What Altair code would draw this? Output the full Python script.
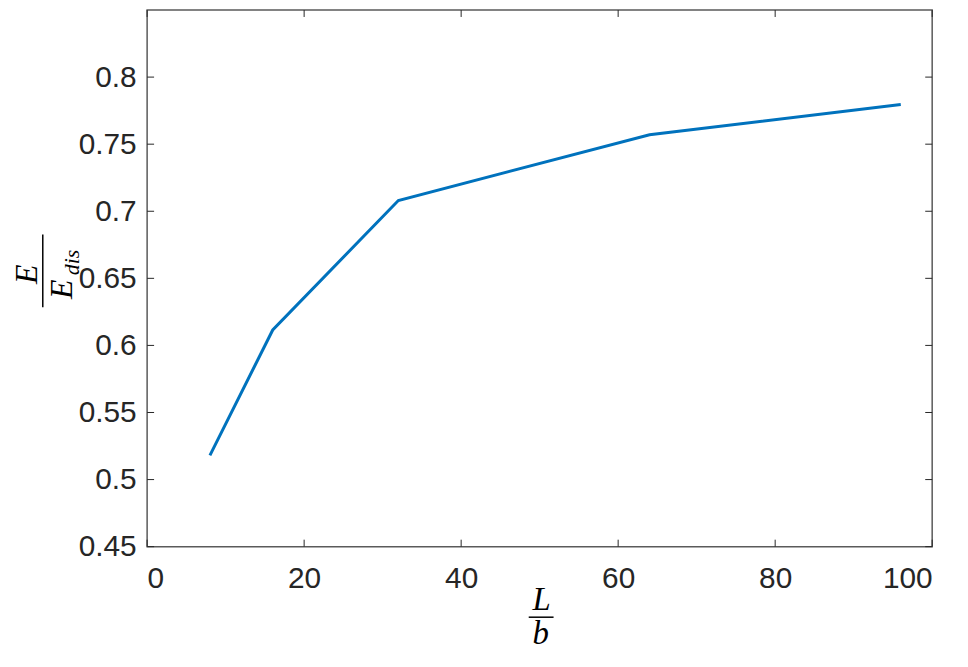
import altair as alt
import pandas as pd

# data
x_vals = [8, 16, 32, 64, 96]
y_vals = [0.518, 0.6115, 0.708, 0.757, 0.7795]
x_ticks = [0, 20, 40, 60, 80, 100]
y_ticks = [0.45, 0.5, 0.55, 0.6, 0.65, 0.7, 0.75, 0.8]

W, H = 790, 540
df = pd.DataFrame({"x": x_vals, "y": y_vals})
xt = pd.DataFrame({"x": x_ticks})
yt = pd.DataFrame({"y": y_ticks})

xs = alt.Scale(domain=[0, 100], nice=False, zero=False)
ys = alt.Scale(domain=[0.45, 0.85], nice=False, zero=False)

xaxis = alt.Axis(values=x_ticks, format="d", title=None, labelPadding=17)
yaxis = alt.Axis(values=y_ticks, format=".2~f", title=None, labelPadding=11)

line = alt.Chart(df).mark_line(color="#0072BD", strokeWidth=3).encode(
    x=alt.X("x:Q", scale=xs, axis=xaxis),
    y=alt.Y("y:Q", scale=ys, axis=yaxis),
)

tick_color = "#262626"
tl = 7
bottom_t = alt.Chart(xt).mark_rule(color=tick_color, strokeWidth=1).encode(
    x=alt.X("x:Q", scale=xs), y=alt.value(H), y2=alt.value(H - tl))
top_t = alt.Chart(xt).mark_rule(color=tick_color, strokeWidth=1).encode(
    x=alt.X("x:Q", scale=xs), y=alt.value(0), y2=alt.value(tl))
left_t = alt.Chart(yt).mark_rule(color=tick_color, strokeWidth=1).encode(
    y=alt.Y("y:Q", scale=ys), x=alt.value(0), x2=alt.value(tl))
right_t = alt.Chart(yt).mark_rule(color=tick_color, strokeWidth=1).encode(
    y=alt.Y("y:Q", scale=ys), x=alt.value(W), x2=alt.value(W - tl))

one = pd.DataFrame({"a": [0]})
serif = "Liberation Serif"

# x-axis label: L / b
xl_num = alt.Chart(one).mark_text(font=serif, fontStyle="italic", fontSize=33,
                                  align="center", baseline="alphabetic", color="#000").encode(
    x=alt.value(397), y=alt.value(604), text=alt.value("L"))
xl_bar = alt.Chart(one).mark_rule(color="#000", strokeWidth=1.5).encode(
    x=alt.value(384), x2=alt.value(409), y=alt.value(611))
xl_den = alt.Chart(one).mark_text(font=serif, fontStyle="italic", fontSize=33,
                                  align="center", baseline="alphabetic", color="#000").encode(
    x=alt.value(396), y=alt.value(638), text=alt.value("b"))

# y-axis label: E / E_dis (rotated)
yl_num = alt.Chart(one).mark_text(font=serif, fontStyle="italic", fontSize=32, angle=270,
                                  align="center", baseline="alphabetic", color="#000").encode(
    x=alt.value(-111), y=alt.value(266), text=alt.value("E"))
yl_bar = alt.Chart(one).mark_rule(color="#000", strokeWidth=1.5).encode(
    x=alt.value(-105), y=alt.value(226), y2=alt.value(299))
yl_den = alt.Chart(one).mark_text(font=serif, fontStyle="italic", fontSize=32, angle=270,
                                  align="center", baseline="alphabetic", color="#000").encode(
    x=alt.value(-76), y=alt.value(281), text=alt.value("E"))
yl_sub = alt.Chart(one).mark_text(font=serif, fontStyle="italic", fontSize=22, angle=270,
                                  align="center", baseline="alphabetic", color="#000").encode(
    x=alt.value(-69), y=alt.value(254), text=alt.value("dis"))

chart = alt.layer(
    line, bottom_t, top_t, left_t, right_t,
    xl_num, xl_bar, xl_den, yl_num, yl_bar, yl_den, yl_sub,
).properties(
    width=W, height=H,
    autosize=alt.AutoSizeParams(type="none"),
    padding={"left": 140, "top": 0, "right": 28, "bottom": 106},
).configure_view(
    stroke="#5a5a5a", strokeWidth=1.5
).configure_axis(
    grid=False, ticks=False, domain=False,
    labelFont="Liberation Sans", labelFontSize=30, labelColor="#262626",
).configure_axisX(labelBaseline="top").configure_axisY(labelAlign="right")

chart.save("out.html", embed_options={"renderer": "svg", "actions": False})
